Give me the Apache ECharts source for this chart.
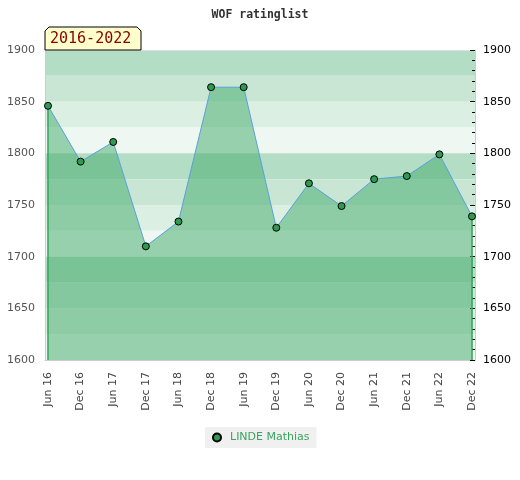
<!DOCTYPE html>
<html>
<head>
<meta charset="utf-8">
<script src="https://cdn.jsdelivr.net/npm/echarts@6/dist/echarts.min.js"></script>
<style>html,body{margin:0;padding:0;background:#fff}#c{width:520px;height:480px}</style>
</head>
<body>
<div id="c"></div>
<script>
var categories = ['Jun 16','Dec 16','Jun 17','Dec 17','Jun 18','Dec 18','Jun 19','Dec 19','Jun 20','Dec 20','Jun 21','Dec 21','Jun 22','Dec 22'];
var ratings = [1846, 1792, 1811, 1710, 1734, 1864, 1864, 1728, 1771, 1749, 1775, 1778, 1799, 1739];
var playerName = 'LINDE Mathias';
var chartTitle = 'WOF ratinglist';
var periodLabel = '2016-2022';
var yMin = 1600, yMax = 1900, yStep = 50, bandStep = 25;

var bandShades = ['#b3ddc4', '#c9e6d4', '#dcefe3', '#eef7f1'];
var bands = [];
var k = 0;
for (var hi = yMax; hi > yMin; hi -= bandStep) {
  bands.push([{ yAxis: hi - bandStep, itemStyle: { color: bandShades[k % 4] } }, { yAxis: hi }]);
  k++;
}
function plain(v) { return String(v); }

var chart = echarts.init(document.getElementById('c'));
chart.setOption({
  animation: false,
  textStyle: { fontFamily: 'DejaVu Sans' },
  title: {
    text: chartTitle, left: 'center', top: 4,
    textStyle: { fontFamily: 'DejaVu Sans Mono', fontWeight: 'bold', fontSize: 11.5, color: '#333' }
  },
  legend: {
    data: [playerName], left: 205, top: 427, padding: [5, 7],
    backgroundColor: '#f0f0f0', icon: 'circle', itemWidth: 8, itemHeight: 8, itemGap: 10,
    textStyle: { color: '#3aa35f', fontSize: 11, padding: [0, 0, 0, 4] }
  },
  grid: [
    { left: 45, right: 45, top: 50, bottom: 120 },
    { left: 48, right: 48, top: 50, bottom: 120 }
  ],
  xAxis: [
    { type: 'value', gridIndex: 0, min: 0, max: 1, position: 'bottom', z: 3,
      axisLine: { show: true, onZero: false, lineStyle: { color: '#ccc' } }, axisTick: { show: false }, minorTick: { show: false }, axisLabel: { show: false }, splitLine: { show: false } },
    { type: 'value', gridIndex: 0, min: 0, max: 1, position: 'top', z: 3,
      axisLine: { show: true, onZero: false, lineStyle: { color: '#ddd' } }, axisTick: { show: false }, minorTick: { show: false }, axisLabel: { show: false }, splitLine: { show: false } },
    { type: 'category', gridIndex: 1, data: categories, boundaryGap: false, position: 'bottom',
      axisLine: { show: false, onZero: false }, axisTick: { show: false }, splitLine: { show: false },
      axisLabel: { rotate: 90, margin: 12, color: '#444', fontSize: 11, interval: 0 } }
  ],
  yAxis: [
    { type: 'value', gridIndex: 0, min: yMin, max: yMax, interval: yStep, position: 'left', z: 3,
      axisLine: { show: true, onZero: false, lineStyle: { color: '#ccc' } }, axisTick: { show: false }, minorTick: { show: false }, splitLine: { show: false },
      axisLabel: { color: '#555', fontSize: 11, margin: 10, formatter: plain } },
    { type: 'value', gridIndex: 0, min: yMin, max: yMax, interval: yStep, position: 'right', z: 3,
      axisLine: { show: true, onZero: false, lineStyle: { color: '#ccc' } },
      axisTick: { show: true, inside: true, length: 5, lineStyle: { color: '#000' } },
      minorTick: { show: true, splitNumber: 5, length: 3, lineStyle: { color: '#000' } },
      splitLine: { show: false },
      axisLabel: { color: '#000', fontSize: 11, margin: 8, formatter: plain } },
    { type: 'value', gridIndex: 1, min: yMin, max: yMax, interval: yStep, show: false,
      axisLine: { onZero: false } }
  ],
  series: [
    { type: 'line', xAxisIndex: 0, yAxisIndex: 0, data: [[0, yMin]], showSymbol: false, silent: true, z: 1,
      lineStyle: { opacity: 0 },
      markArea: { silent: true, data: bands } },
    { name: playerName, type: 'line', xAxisIndex: 2, yAxisIndex: 2, data: ratings, z: 5,
      symbol: 'circle', symbolSize: 7,
      lineStyle: { color: '#5aa0e0', width: 1 },
      itemStyle: { color: '#2e9a50', borderColor: '#000', borderWidth: 1 },
      areaStyle: { color: 'rgba(64,170,106,0.5)', opacity: 1, origin: 'start' },
      markLine: {
        silent: true, symbol: 'none', label: { show: false },
        lineStyle: { color: '#2aa050', width: 1.5, type: 'solid' },
        data: [
          [{ coord: [categories[0], ratings[0]] }, { coord: [categories[0], yMin] }],
          [{ coord: [categories[categories.length - 1], ratings[ratings.length - 1]] }, { coord: [categories[categories.length - 1], yMin] }]
        ]
      }
    }
  ],
  graphic: [
    { type: 'polygon', z: 10, shape: { points: [[45, 50], [45, 31], [49, 27], [137, 27], [141, 31], [141, 50]] },
      style: { fill: '#ffffcc', stroke: '#000', lineWidth: 1 } },
    { type: 'text', z: 11, left: 50, top: 32,
      style: { text: periodLabel, fill: '#8b0000', font: '15px "DejaVu Sans Mono"' } }
  ]
});
</script>
</body>
</html>
